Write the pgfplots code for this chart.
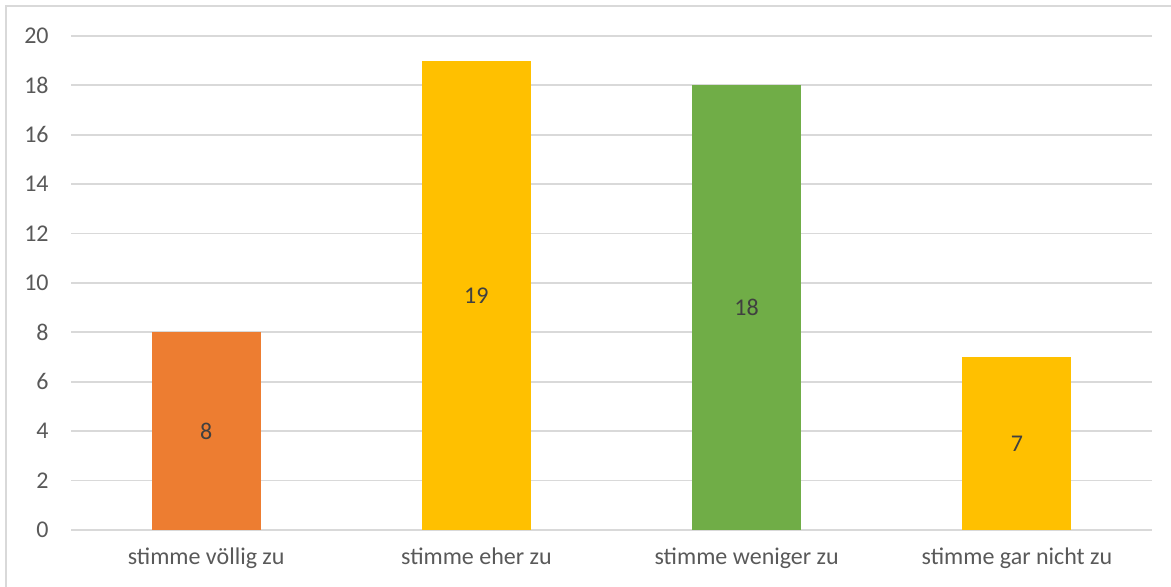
\documentclass[border=0pt]{standalone}
\usepackage{pgfplots}
\pgfplotsset{compat=1.18}
\usepackage{fontspec}
\setmainfont{Carlito}
\definecolor{cOrange}{HTML}{ED7D31}
\definecolor{cYellow}{HTML}{FFC000}
\definecolor{cGreen}{HTML}{70AD47}
\definecolor{cGrid}{HTML}{D9D9D9}
\definecolor{cTick}{HTML}{595959}
\definecolor{cLabel}{HTML}{404040}
\begin{document}
\begin{tikzpicture}
\useasboundingbox (0pt,0pt) rectangle (585.5pt,293.5pt);
\draw[cGrid, line width=1pt] (3pt,0pt) -- (3pt,290.5pt) -- (585.5pt,290.5pt);
\begin{axis}[
  at={(35.5pt,28.5pt)}, anchor=south west,
  scale only axis, width=540.5pt, height=247pt,
  xmin=-0.5, xmax=3.5, ymin=0, ymax=20,
  ytick={0,2,...,20},
  xtick={0,1,2,3},
  xticklabels={stimme völlig zu, stimme eher zu, stimme weniger zu, stimme gar nicht zu},
  axis line style={draw=none},
  major tick length=0pt,
  ymajorgrids, grid style={cGrid, line width=0.9pt},
  /pgf/number format/assume math mode=true,
  ticklabel style={font=\fontsize{12}{14}\selectfont, text=cTick},
  yticklabel style={anchor=east, inner sep=0pt, xshift=-11pt},
  xticklabel style={anchor=north, inner sep=0pt, yshift=-8.5pt, text height=8.5pt, text depth=2pt},
  ybar, bar width=54.5pt, bar shift=0pt,
  visualization depends on=rawy\as\rawy,
  nodes near coords,
  every node near coord/.append style={anchor=center, font=\fontsize{12}{14}\selectfont, text=cLabel, shift={(axis direction cs:0,-\rawy/2)}},
  clip=false,
]
\addplot[fill=cOrange, draw=none] coordinates {(0,8)};
\addplot[fill=cYellow, draw=none] coordinates {(1,19)};
\addplot[fill=cGreen, draw=none] coordinates {(2,18)};
\addplot[fill=cYellow, draw=none] coordinates {(3,7)};
\end{axis}
\end{tikzpicture}
\end{document}
